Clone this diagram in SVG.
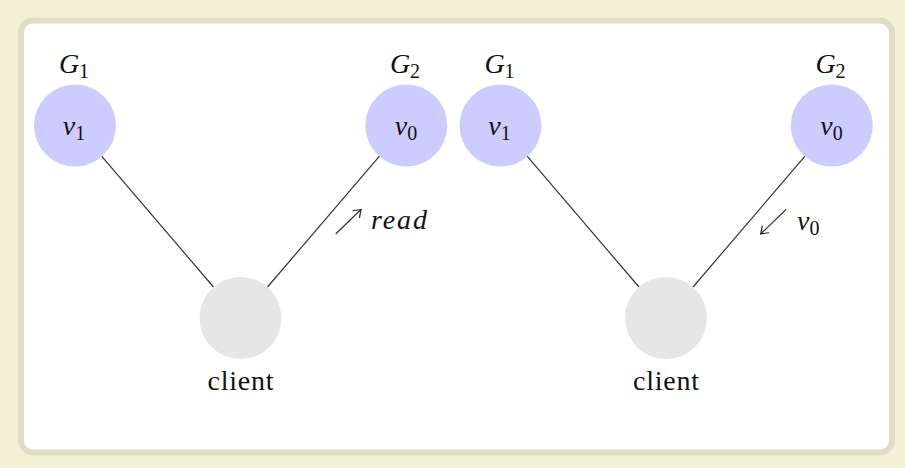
<svg xmlns="http://www.w3.org/2000/svg" width="905" height="468" viewBox="0 0 905 468">
<style>
.t{font-family:"Liberation Serif","DejaVu Serif",serif;font-size:28px;fill:#111;text-anchor:middle}
.m{font-style:italic}
.s{font-style:normal;font-size:20px}
.blue{fill:#ccccff}
.gray{fill:#e6e6e6}
.edge{stroke:#333;stroke-width:1.2;fill:none}
</style>
<defs>
<marker id="to" viewBox="-9 -7 11 14" markerWidth="11" markerHeight="14" refX="0" refY="0" orient="auto" markerUnits="userSpaceOnUse">
<path d="M-7,-5 Q-1.8,-1.2 0,0 Q-1.8,1.2 -7,5" fill="none" stroke="#222" stroke-width="1.2"/>
</marker>
</defs>
<rect width="905" height="468" fill="#f4f2d6"/>
<rect x="21" y="20.5" width="871" height="432" rx="12" fill="#fff" stroke="#dfdec8" stroke-width="6"/>
<g id="connectors">
<line class="edge" x1="101.6" y1="156.2" x2="213.5" y2="287"/>
<line class="edge" x1="267.5" y1="287" x2="379.5" y2="156.2"/>
<line class="edge" x1="527.1" y1="156.2" x2="639" y2="287"/>
<line class="edge" x1="693" y1="287" x2="805" y2="156.2"/>
<line class="edge" x1="335.7" y1="234" x2="361" y2="209.5" marker-end="url(#to)"/>
<line class="edge" x1="786" y1="209.5" x2="760.7" y2="234" marker-end="url(#to)"/>
</g>
<g id="label-read"><text class="t m" x="371" y="229" style="text-anchor:start" textLength="56" lengthAdjust="spacing">read</text></g>
<g id="label-v0"><text class="t m" x="797" y="230" style="text-anchor:start">v<tspan class="s" dy="5">0</tspan></text></g>
<g id="L-G1">
<circle class="blue" cx="75" cy="125.5" r="41"/>
<text class="t m" x="74" y="135">v<tspan class="s" dy="5">1</tspan></text>
<text class="t m" x="74" y="73">G<tspan class="s" dy="5">1</tspan></text>
</g>
<g id="L-G2">
<circle class="blue" cx="406.3" cy="125.5" r="41"/>
<text class="t m" x="406" y="135">v<tspan class="s" dy="5">0</tspan></text>
<text class="t m" x="405" y="73">G<tspan class="s" dy="5">2</tspan></text>
</g>
<g id="L-client">
<circle class="gray" cx="240.5" cy="318" r="41"/>
<text class="t" x="240.5" y="390" textLength="66" lengthAdjust="spacing">client</text>
</g>
<g id="R-G1">
<circle class="blue" cx="500.5" cy="125.5" r="41"/>
<text class="t m" x="499.5" y="135">v<tspan class="s" dy="5">1</tspan></text>
<text class="t m" x="499.5" y="73">G<tspan class="s" dy="5">1</tspan></text>
</g>
<g id="R-G2">
<circle class="blue" cx="831.8" cy="125.5" r="41"/>
<text class="t m" x="831.5" y="135">v<tspan class="s" dy="5">0</tspan></text>
<text class="t m" x="830.5" y="73">G<tspan class="s" dy="5">2</tspan></text>
</g>
<g id="R-client">
<circle class="gray" cx="666" cy="318" r="41"/>
<text class="t" x="666" y="390" textLength="66" lengthAdjust="spacing">client</text>
</g>
</svg>
